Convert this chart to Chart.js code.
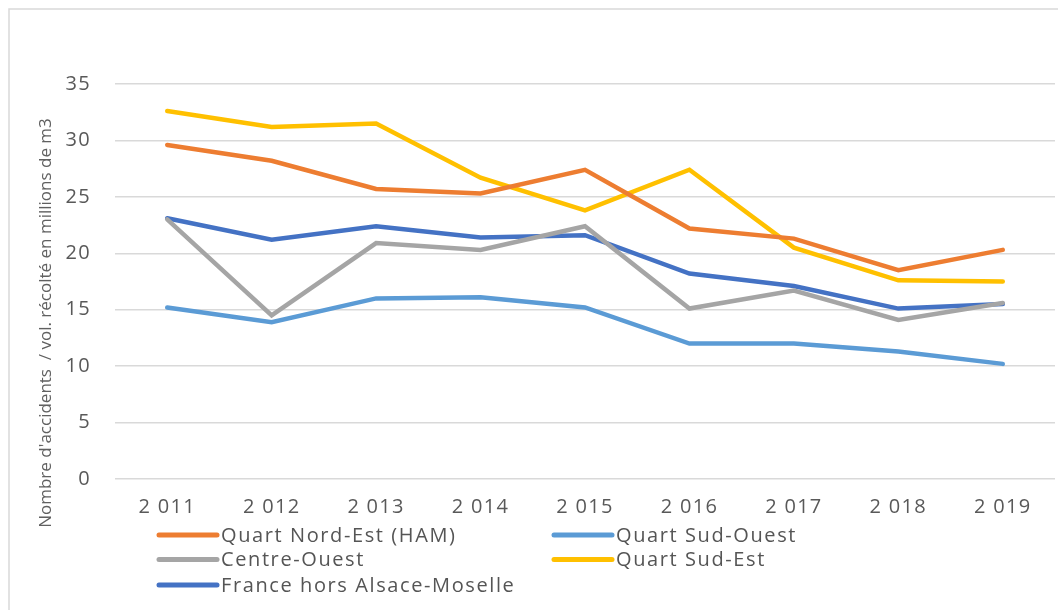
<!DOCTYPE html>
<html>
<head>
<meta charset="utf-8">
<script src="https://cdn.jsdelivr.net/npm/chart.js@4/dist/chart.umd.min.js"></script>
<style>
html,body{margin:0;padding:0;background:#fff;}
canvas{display:block;}
</style>
</head>
<body>
<canvas id="c" width="1058" height="610"></canvas>
<script>
const categories = ["2 011","2 012","2 013","2 014","2 015","2 016","2 017","2 018","2 019"];
const seriesNames = ["Quart Nord-Est (HAM)","Quart Sud-Ouest","Centre-Ouest","Quart Sud-Est","France hors Alsace-Moselle"];
const nordEst     = [29.6, 28.2, 25.7, 25.3, 27.4, 22.2, 21.3, 18.5, 20.3];
const sudOuest    = [15.2, 13.9, 16.0, 16.1, 15.2, 12.0, 12.0, 11.3, 10.2];
const centreOuest = [23.0, 14.5, 20.9, 20.3, 22.4, 15.1, 16.7, 14.1, 15.6];
const sudEst      = [32.6, 31.2, 31.5, 26.7, 23.8, 27.4, 20.5, 17.6, 17.5];
const france      = [23.1, 21.2, 22.4, 21.4, 21.6, 18.2, 17.1, 15.1, 15.5];
const yTicks = [0, 5, 10, 15, 20, 25, 30, 35];
const yTitle = "Nombre d'accidents  / vol. récolté en millions de m3";

const colors = ["#ED7D31","#5B9BD5","#A5A5A5","#FFC000","#4472C4"];
const seriesData = [nordEst, sudOuest, centreOuest, sudEst, france];

const framePlugin = {
  id: 'frame',
  beforeInit(chart) {
    chart.ctx.letterSpacing = '1.3px';
  },
  beforeDraw(chart) {
    const ctx = chart.ctx;
    ctx.letterSpacing = '1.3px';
    ctx.save();
    ctx.strokeStyle = '#d9d9d9';
    ctx.lineWidth = 1.5;
    ctx.beginPath();
    ctx.moveTo(9, 610);
    ctx.lineTo(9, 9);
    ctx.lineTo(1058, 9);
    ctx.stroke();
    ctx.restore();
  }
};

const legendPlugin = {
  id: 'customLegend',
  afterDraw(chart) {
    const ctx = chart.ctx;
    const cols = [157, 552];
    const rows = [535, 559.5, 585];
    ctx.save();
    ctx.font = '20px "Open Sans"';
    ctx.letterSpacing = '1.6px';
    ctx.textBaseline = 'middle';
    chart.data.datasets.forEach((ds, i) => {
      const x = cols[i % 2];
      const y = rows[Math.floor(i / 2)];
      ctx.strokeStyle = ds.borderColor;
      ctx.lineWidth = 5;
      ctx.lineCap = 'round';
      ctx.beginPath();
      ctx.moveTo(x + 2, y);
      ctx.lineTo(x + 60, y);
      ctx.stroke();
      ctx.fillStyle = '#555555';
      ctx.fillText(ds.label, x + 64, y + 1);
    });
    // y axis title
    ctx.letterSpacing = '0px';
    ctx.translate(46, 323);
    ctx.rotate(-Math.PI / 2);
    ctx.textAlign = 'center';
    ctx.textBaseline = 'middle';
    ctx.font = '17px "Liberation Sans Narrow", "Open Sans"';
    ctx.fillStyle = '#606060';
    ctx.fillText(yTitle, 0, 0);
    ctx.restore();
  }
};

new Chart(document.getElementById('c'), {
  type: 'line',
  data: {
    labels: categories,
    datasets: seriesNames.map((n, i) => ({
      label: n,
      data: seriesData[i],
      borderColor: colors[i],
      backgroundColor: colors[i],
      borderWidth: 4.5,
      pointRadius: 0,
      tension: 0,
      fill: false,
      borderCapStyle: 'round',
      borderJoinStyle: 'miter'
    }))
  },
  options: {
    responsive: false,
    animation: false,
    layout: { padding: { left: 0, right: 3, top: 84, bottom: 0 } },
    plugins: {
      legend: { display: false },
      tooltip: { enabled: false }
    },
    scales: {
      x: {
        offset: true,
        grid: { display: false, drawTicks: false },
        border: { display: false },
        ticks: {
          color: '#595959',
          font: { family: '"Open Sans"', size: 20 },
          padding: 16,
          maxRotation: 0,
          autoSkip: false
        },
        afterFit(scale) { scale.height = 131; }
      },
      y: {
        min: 0,
        max: 35,
        afterBuildTicks(scale) { scale.ticks = yTicks.map(v => ({ value: v })); },
        grid: { color: '#d9d9d9', lineWidth: 1.5, drawTicks: false },
        border: { display: false },
        ticks: {
          color: '#595959',
          font: { family: '"Open Sans"', size: 20 },
          padding: 24
        },
        title: { display: false },
        afterFit(scale) { scale.width = 115; }
      }
    }
  },
  plugins: [framePlugin, legendPlugin]
});
</script>
</body>
</html>
